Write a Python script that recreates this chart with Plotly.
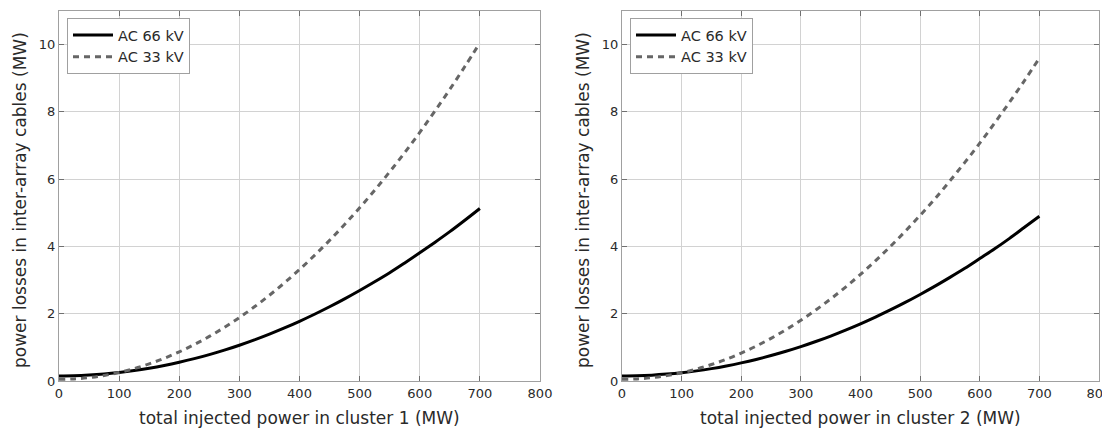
import plotly.graph_objects as go

# ---- data ----
power_mw = [0, 25, 50, 75, 100, 125, 150, 175, 200, 225, 250, 275, 300, 325, 350,
            375, 400, 425, 450, 475, 500, 525, 550, 575, 600, 625, 650, 675, 700]

c1_ac66 = [0.15, 0.156, 0.175, 0.207, 0.252, 0.309, 0.379, 0.461, 0.556, 0.664, 0.785, 0.918,
           1.064, 1.223, 1.395, 1.579, 1.776, 1.985, 2.207, 2.442, 2.69, 2.95, 3.22, 3.51,
           3.81, 4.12, 4.44, 4.78, 5.13]
c1_ac33 = [0.05, 0.063, 0.101, 0.165, 0.254, 0.369, 0.509, 0.675, 0.866, 1.083, 1.325, 1.593,
           1.886, 2.205, 2.549, 2.919, 3.314, 3.735, 4.181, 4.653, 5.15, 5.67, 6.22, 6.79,
           7.39, 8.02, 8.67, 9.35, 10.05]

c2_ac66 = [0.15, 0.156, 0.174, 0.205, 0.247, 0.301, 0.368, 0.447, 0.538, 0.641, 0.756, 0.883,
           1.022, 1.174, 1.337, 1.513, 1.70, 1.90, 2.112, 2.336, 2.573, 2.82, 3.08, 3.35,
           3.64, 3.93, 4.24, 4.57, 4.90]
c2_ac33 = [0.05, 0.062, 0.099, 0.16, 0.245, 0.355, 0.489, 0.647, 0.83, 1.037, 1.269, 1.525,
           1.805, 2.11, 2.439, 2.792, 3.17, 3.572, 3.999, 4.45, 4.925, 5.42, 5.95, 6.50,
           7.07, 7.67, 8.29, 8.93, 9.60]

x_ticks = [0, 100, 200, 300, 400, 500, 600, 700, 800]
y_ticks = [0, 2, 4, 6, 8, 10]

x_titles = ["total injected power in cluster 1 (MW)", "total injected power in cluster 2 (MW)"]
y_title = "power losses in inter-array cables (MW)"
names = ["AC 66 kV", "AC 33 kV"]

W, H = 1102, 434
FONT = "DejaVu Sans"
TXT = "#2a2a2a"

fig = go.Figure()

panels = [
    (c1_ac66, c1_ac33, "x", "y", "legend"),
    (c2_ac66, c2_ac33, "x2", "y2", "legend2"),
]
for a66, a33, xa, ya, lg in panels:
    fig.add_trace(go.Scatter(x=power_mw, y=a66, mode="lines", name=names[0],
                             line=dict(color="black", width=3, dash="solid", shape="spline"),
                             xaxis=xa, yaxis=ya, legend=lg))
    fig.add_trace(go.Scatter(x=power_mw, y=a33, mode="lines", name=names[1],
                             line=dict(color="#666666", width=3, dash="6px,5px", shape="spline"),
                             xaxis=xa, yaxis=ya, legend=lg))

left_dom = [59 / W, 540 / W]
right_dom = [622 / W, 1099 / W]
y_dom = [(H - 381) / H, (H - 11) / H]

axis_common = dict(
    showline=True, linecolor="#a0a0a0", linewidth=1, mirror="ticks",
    ticks="inside", ticklen=5, tickcolor="#707070",
    showgrid=True, gridcolor="#d2d2d2", gridwidth=1,
    zeroline=False, automargin=False, ticklabeloverflow="allow",
    tickfont=dict(family=FONT, size=13, color=TXT),
)

legend_common = dict(xanchor="left", yanchor="top", itemwidth=40,
                     bgcolor="white", bordercolor="#a0a0a0", borderwidth=1,
                     font=dict(family=FONT, size=14.5, color=TXT))

fig.update_layout(
    width=W, height=H,
    margin=dict(l=0, r=0, t=0, b=0),
    paper_bgcolor="white", plot_bgcolor="white",
    font=dict(family=FONT, color=TXT),
    xaxis=dict(domain=left_dom, range=[0, 800], tickvals=x_ticks, anchor="y", **axis_common),
    yaxis=dict(domain=y_dom, range=[0, 11], tickvals=y_ticks, anchor="x", **axis_common),
    xaxis2=dict(domain=right_dom, range=[0, 800], tickvals=x_ticks, anchor="y2", **axis_common),
    yaxis2=dict(domain=y_dom, range=[0, 11], tickvals=y_ticks, anchor="x2", **axis_common),
    legend=dict(x=67 / W, y=(H - 18) / H, **legend_common),
    legend2=dict(x=630 / W, y=(H - 18) / H, **legend_common),
    showlegend=True,
)

annotations = []
for dom, xt in ((left_dom, x_titles[0]), (right_dom, x_titles[1])):
    annotations.append(dict(text=xt, x=(dom[0] + dom[1]) / 2, y=(H - 418) / H,
                            xref="paper", yref="paper", showarrow=False,
                            xanchor="center", yanchor="middle",
                            font=dict(family=FONT, size=17, color=TXT)))
for xc in (20, 583):
    annotations.append(dict(text=y_title, x=xc / W, y=1 - 200 / H,
                            xref="paper", yref="paper", showarrow=False,
                            textangle=-90, xanchor="center", yanchor="middle",
                            font=dict(family=FONT, size=17, color=TXT)))
fig.update_layout(annotations=annotations)

fig.write_html("out.html", config={"displayModeBar": False},
               post_script="document.body.style.margin='0';document.body.style.padding='0';"
                           "document.body.style.overflow='hidden';")
